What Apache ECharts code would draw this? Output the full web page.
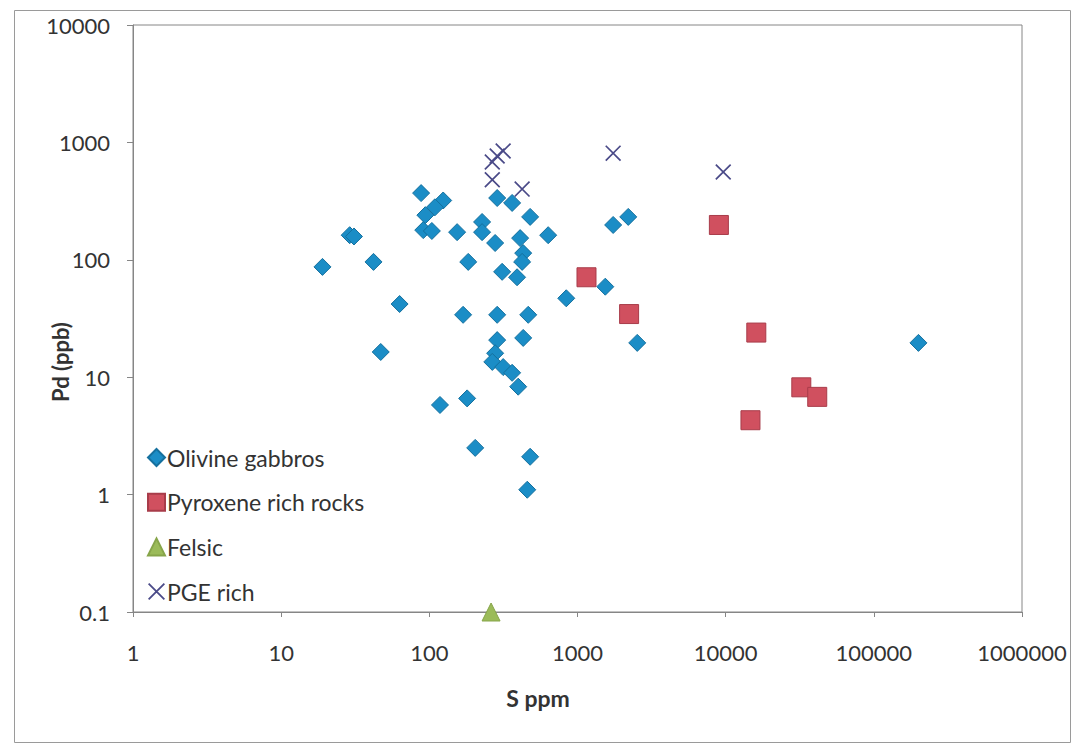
<!DOCTYPE html>
<html>
<head>
<meta charset="utf-8">
<script src="https://cdn.jsdelivr.net/npm/echarts@6/dist/echarts.min.js"></script>
<style>
  html, body { margin: 0; padding: 0; background: #ffffff; }
  #chart { width: 1080px; height: 749px; }
</style>
</head>
<body>
<div id="chart"></div>
<script>
// S (ppm) vs Pd (ppb) by rock group
const olivineS  = [19, 29, 31, 42, 63, 47, 88, 124, 109, 94, 91, 104, 154, 227, 227, 287, 362, 479, 634, 278, 410, 430, 423, 183, 310, 391, 169, 287, 465, 430, 287, 278, 266, 315, 362, 398, 118, 180, 204, 479, 458, 1740, 2200, 1540, 840, 2530, 200000];
const olivinePd = [87, 162, 158, 96, 42, 16.4, 370, 320, 280, 240, 179, 176, 172, 210, 172, 336, 305, 232, 162, 139, 153, 114, 96, 96, 79, 71, 34, 34, 34, 21.6, 20.7, 16, 13.5, 12.2, 10.9, 8.3, 5.8, 6.6, 2.5, 2.1, 1.1, 198, 232, 59, 47, 19.6, 19.6];

const pyroxeneS  = [1150, 2230, 9000, 16100, 32400, 41500, 14700];
const pyroxenePd = [71, 34.5, 198, 24, 8.2, 6.8, 4.3];

const felsicS  = [261];
const felsicPd = [0.1];

const pgeS  = [266, 287, 315, 266, 423, 1740, 9630];
const pgePd = [680, 765, 845, 480, 400, 810, 560];

const seriesNames = ['Olivine gabbros', 'Pyroxene rich rocks', 'Felsic', 'PGE rich'];
const xTicks = [1, 10, 100, 1000, 10000, 100000, 1000000];
const yTicks = [0.1, 1, 10, 100, 1000, 10000];

const pairs = (xs, ys) => xs.map((x, i) => [x, ys[i]]);

// thin "x" glyph drawn as two filled bars
const crossPath = 'path://M1.5,0 L20,18.5 L18.5,20 L0,1.5 Z M18.5,0 L20,1.5 L1.5,20 L0,18.5 Z';

const fontFamily = 'Lato, "Open Sans", sans-serif';
const textColor = '#333333';
const axisGray = '#868686';

const fmt = v => String(+Number(v).toPrecision(6));

const chart = echarts.init(document.getElementById('chart'), null, { renderer: 'svg' });

chart.setOption({
  animation: false,
  backgroundColor: '#ffffff',
  textStyle: { fontFamily: fontFamily, color: textColor },
  grid: {
    left: 133, right: 58, top: 25, bottom: 137,
    show: true, borderColor: axisGray, borderWidth: 1, backgroundColor: 'transparent'
  },
  xAxis: {
    type: 'log', logBase: 10,
    min: xTicks[0], max: xTicks[xTicks.length - 1], splitNumber: 6,
    axisLine: { show: true, lineStyle: { color: axisGray, width: 1 } },
    axisTick: { show: true, inside: false, length: 5, lineStyle: { color: axisGray } },
    axisLabel: { formatter: fmt, fontSize: 22, color: textColor, margin: 29, fontFamily: fontFamily },
    splitLine: { show: false },
    minorTick: { show: false }
  },
  yAxis: {
    type: 'log', logBase: 10,
    min: yTicks[0], max: yTicks[yTicks.length - 1], splitNumber: 5,
    axisLine: { show: true, lineStyle: { color: axisGray, width: 1 } },
    axisTick: { show: true, inside: false, length: 6, lineStyle: { color: axisGray } },
    axisLabel: { formatter: fmt, fontSize: 22, color: textColor, margin: 23, fontFamily: fontFamily },
    splitLine: { show: false },
    minorTick: { show: false }
  },
  legend: {
    orient: 'vertical',
    left: 142, top: 441,
    itemWidth: 17, itemHeight: 17, itemGap: 21.7,
    textStyle: { fontSize: 23, lineHeight: 23, color: textColor, fontFamily: fontFamily, padding: [0, 0, 0, -3] },
    data: seriesNames
  },
  graphic: [
    {
      type: 'rect', silent: true, z: -1,
      shape: { x: 14.5, y: 10.5, width: 1056, height: 732 },
      style: { fill: 'none', stroke: '#9a9a9a', lineWidth: 1 }
    },
    {
      type: 'text', silent: true,
      x: 538, y: 698,
      style: { text: 'S ppm', font: 'bold 23px ' + fontFamily, fill: textColor, align: 'center', verticalAlign: 'middle' }
    },
    {
      type: 'text', silent: true,
      x: 60, y: 362, rotation: Math.PI / 2,
      style: { text: 'Pd (ppb)', font: 'bold 22px ' + fontFamily, fill: textColor, align: 'center', verticalAlign: 'middle' }
    }
  ],
  series: [
    {
      name: seriesNames[0], type: 'scatter', clip: false,
      symbol: 'diamond', symbolSize: 17,
      itemStyle: { color: '#1b8dc6', borderColor: '#15709e', borderWidth: 1, opacity: 1 },
      data: pairs(olivineS, olivinePd)
    },
    {
      name: seriesNames[1], type: 'scatter', clip: false,
      symbol: 'rect', symbolSize: 19,
      itemStyle: { color: '#d0505f', borderColor: '#a83c4a', borderWidth: 1, opacity: 1 },
      data: pairs(pyroxeneS, pyroxenePd)
    },
    {
      name: seriesNames[2], type: 'scatter', clip: false,
      symbol: 'triangle', symbolSize: 18,
      itemStyle: { color: '#9bbb59', borderColor: '#87a54a', borderWidth: 1, opacity: 1 },
      data: pairs(felsicS, felsicPd)
    },
    {
      name: seriesNames[3], type: 'scatter', clip: false,
      symbol: crossPath, symbolSize: 16,
      itemStyle: { color: '#4a4a88', opacity: 1 },
      data: pairs(pgeS, pgePd)
    }
  ]
});
</script>
</body>
</html>
